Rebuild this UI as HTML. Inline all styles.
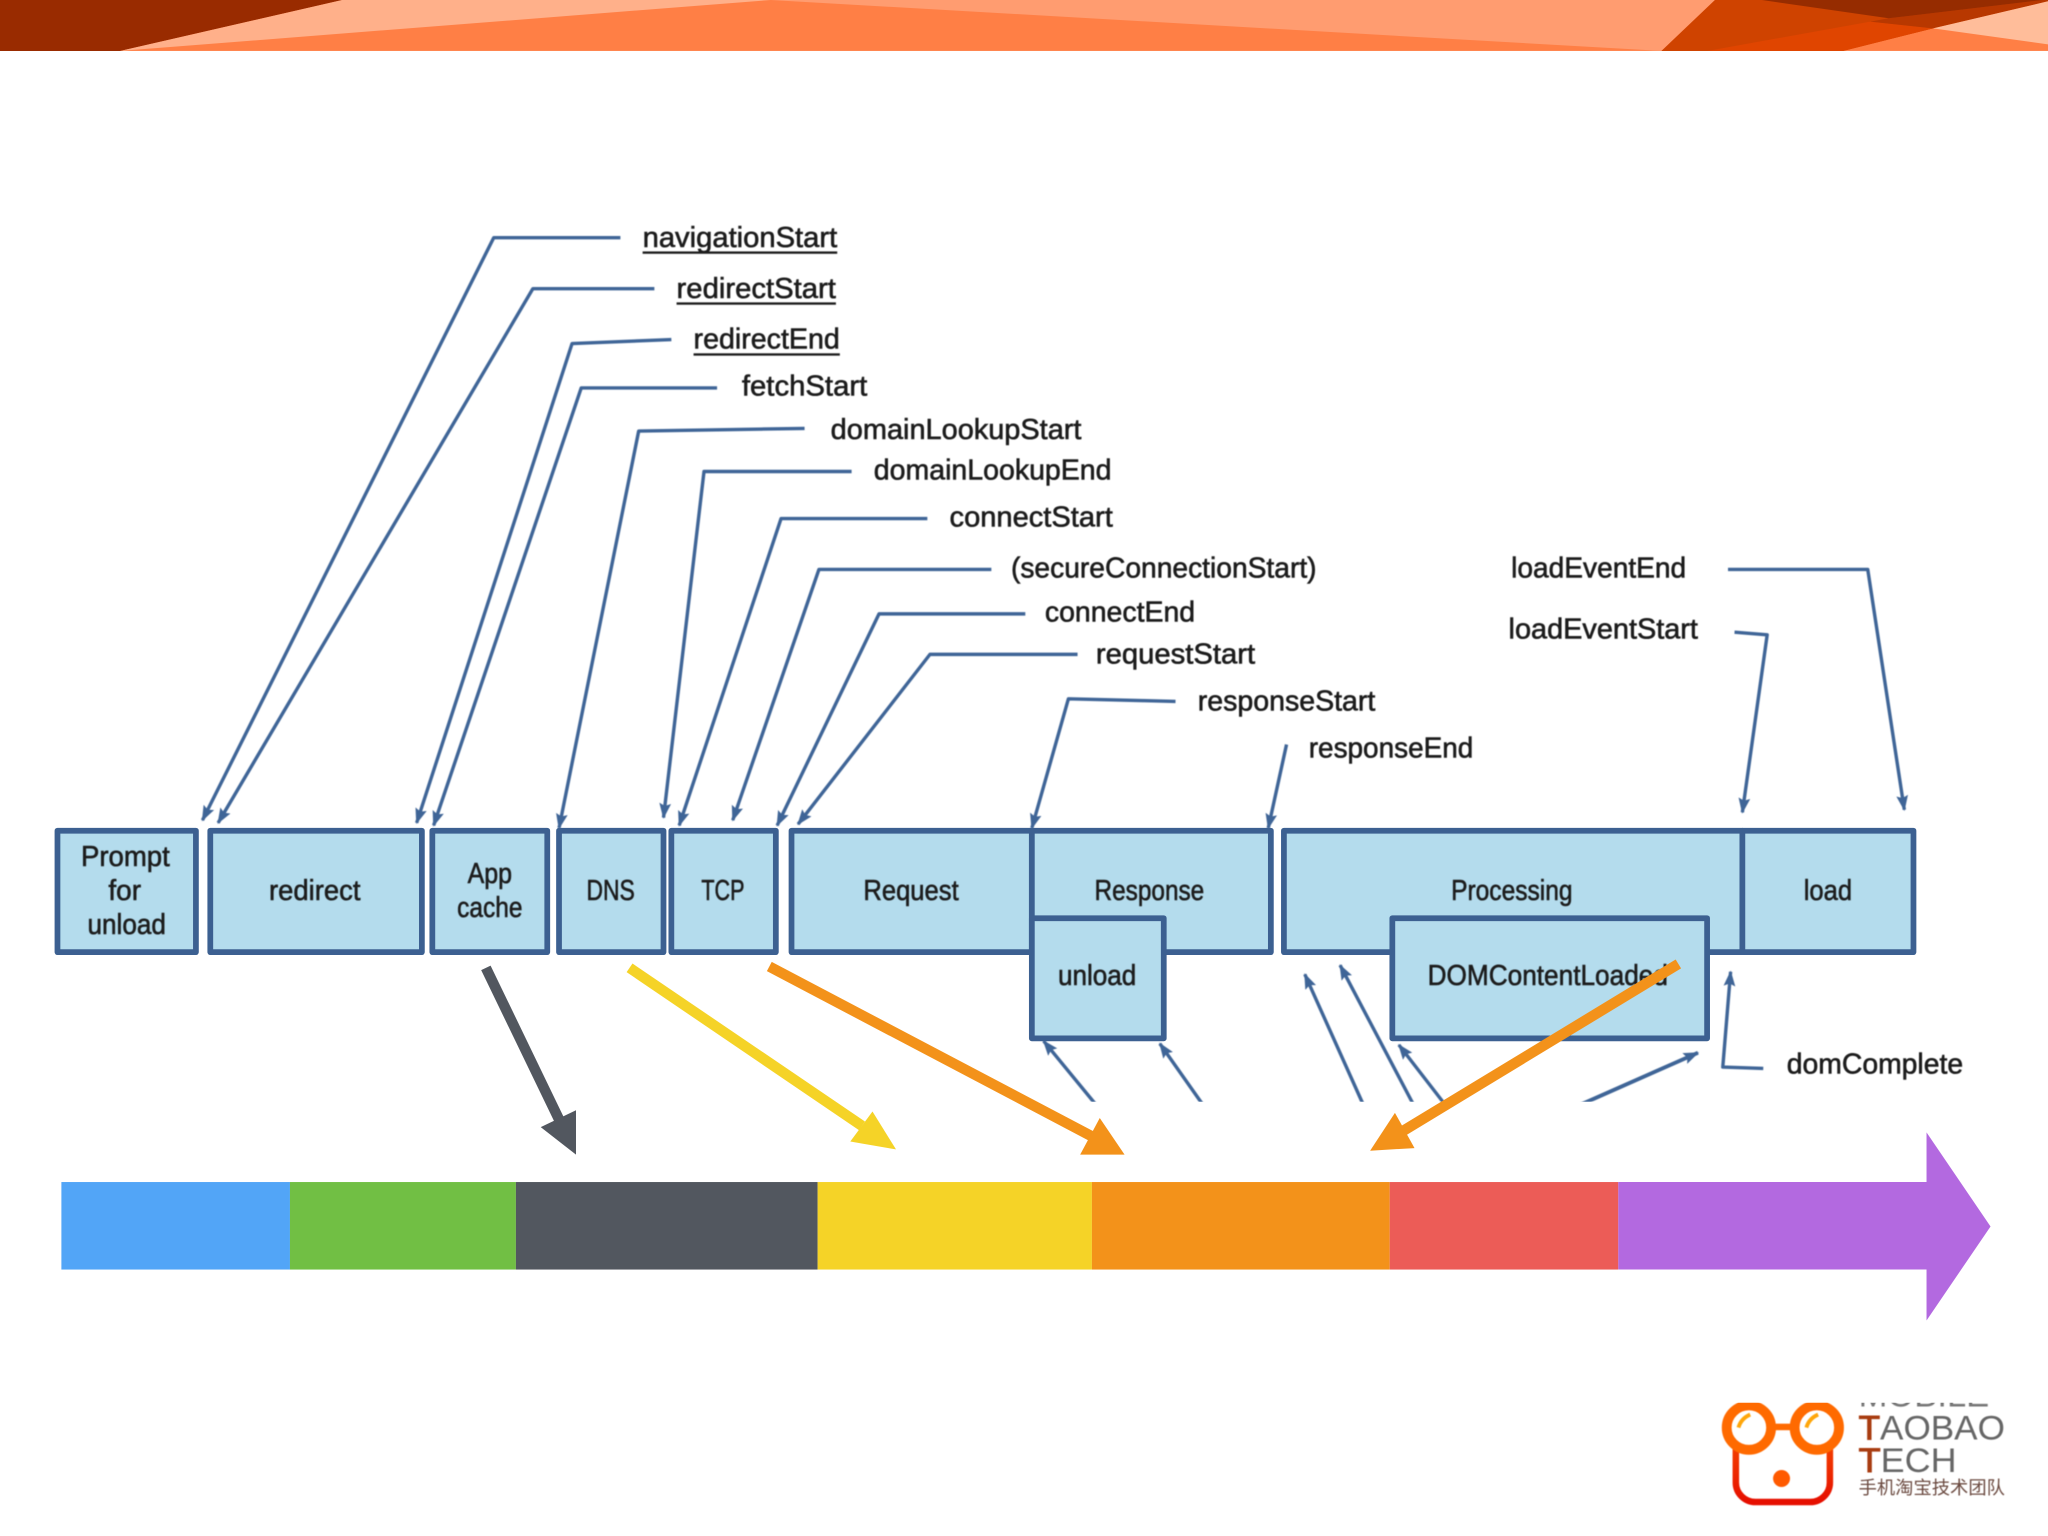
<!DOCTYPE html>
<html><head><meta charset="utf-8"><style>
html,body{margin:0;padding:0;background:#fff;width:2048px;height:1536px;overflow:hidden}
svg{display:block}
text{font-family:"Liberation Sans","Noto Sans CJK SC",sans-serif;fill:#1c1c1c;font-size:22px;stroke:#1c1c1c;stroke-width:.45;}
.c{fill:none;stroke:#3f6597;stroke-width:2.6;stroke-linejoin:round;marker-end:url(#a)}
.b{fill:#b4dced;stroke:#3c6091;stroke-width:4.4;stroke-linejoin:round}
.s{filter:blur(.35px)}
</style></head><body>
<svg width="2048" height="1536" viewBox="0 0 1568 1176" xmlns="http://www.w3.org/2000/svg">
<defs>
<marker id="a" markerUnits="userSpaceOnUse" markerWidth="12" markerHeight="14" refX="11" refY="4.5" orient="auto"><path d="M0 0L12 4.5L0 9L2 4.5Z" fill="#3f6597"/></marker>
<clipPath id="lg"><rect x="1300" y="1074" width="268" height="102"/></clipPath>
<linearGradient id="hd" x1="0" y1="0" x2="0" y2="1"><stop offset="0" stop-color="#ff6a00"/><stop offset="1" stop-color="#e60f00"/></linearGradient>
</defs>
<rect width="1568" height="1176" fill="#fff"/>
<!-- header -->
<rect width="1568" height="39" fill="#ff7f45"/>
<polygon points="0,0 262,0 92,39 0,39" fill="#992b00"/>
<polygon points="262,0 590,0 92,39" fill="#ffb08a"/>
<polygon points="590,0 1313,0 1272,39" fill="#ff9c70"/>
<polygon points="1313,0 1568,0 1568,1 1480,21.7 1411,39 1272,39" fill="#cf4300"/>
<polygon points="1307,39 1432,16.6 1480,21.7 1411,39" fill="#e04500"/>
<polygon points="1446,14 1564,0 1568,0 1568,1 1480,21.7 1432,16.6" fill="#b83800"/>
<polygon points="1349,0 1564,0 1446,14" fill="#962c00"/>
<polygon points="1568,1 1480,21.7 1568,34" fill="#ffbd9a"/>
<!-- connectors -->
<g class="s">
<polyline class="c" points="475,182 378,182 155,628"/>
<polyline class="c" points="501,221 408,221 167,630"/>
<polyline class="c" points="514,260 438,263 319,630"/>
<polyline class="c" points="549,297 445,297 332,632"/>
<polyline class="c" points="616,328 489,330 428,634"/>
<polyline class="c" points="652,361 539,361 508,626"/>
<polyline class="c" points="710,397 598,397 520,632"/>
<polyline class="c" points="759,436 627,436 561,628"/>
<polyline class="c" points="785,470 673,470 595,632"/>
<polyline class="c" points="825,501 712,501 611,631"/>
<polyline class="c" points="900,537 818,535 790,634"/>
<polyline class="c" points="985,570 971,634"/>
<polyline class="c" points="1323,436 1430,436 1458,620"/>
<polyline class="c" points="1328,484 1353,486 1334,622"/>
<polyline class="c" points="845,853 799,797"/>
<polyline class="c" points="926,853 888,799"/>
<polyline class="c" points="1047,853 999,746"/>
<polyline class="c" points="1086,853 1026,739"/>
<polyline class="c" points="1112,853 1071,800"/>
<polyline class="c" points="1196,852 1300,806" style="stroke-width:3"/>
<polyline class="c" points="1350,818 1319,817 1325,744"/>
</g>
<rect x="700" y="843.5" width="700" height="30" fill="#fff"/>
<!-- boxes -->
<rect class="b" x="44" y="636" width="106" height="93"/>
<rect class="b" x="161" y="636" width="162" height="93"/>
<rect class="b" x="331" y="636" width="88" height="93"/>
<rect class="b" x="428" y="636" width="80" height="93"/>
<rect class="b" x="514" y="636" width="80" height="93"/>
<rect class="b" x="606" y="636" width="184" height="93"/>
<rect class="b" x="790" y="636" width="183" height="93"/>
<rect class="b" x="983" y="636" width="351" height="93"/>
<rect class="b" x="1334" y="636" width="131" height="93"/>
<rect class="b" x="790" y="703" width="101" height="92"/>
<rect class="b" x="1066" y="703" width="241" height="92"/>
<g class="s" transform="translate(0,1)">
<!-- box labels -->
<text x="62" y="662" textLength="68" lengthAdjust="spacingAndGlyphs">Prompt</text>
<text x="83" y="688" textLength="25" lengthAdjust="spacingAndGlyphs">for</text>
<text x="67" y="714" textLength="60" lengthAdjust="spacingAndGlyphs">unload</text>
<text x="206" y="688" textLength="70" lengthAdjust="spacingAndGlyphs">redirect</text>
<text x="358" y="675" textLength="34" lengthAdjust="spacingAndGlyphs">App</text>
<text x="350" y="701" textLength="50" lengthAdjust="spacingAndGlyphs">cache</text>
<text x="449" y="688" textLength="37" lengthAdjust="spacingAndGlyphs">DNS</text>
<text x="537" y="688" textLength="33" lengthAdjust="spacingAndGlyphs">TCP</text>
<text x="661" y="688" textLength="73" lengthAdjust="spacingAndGlyphs">Request</text>
<text x="838" y="688" textLength="84" lengthAdjust="spacingAndGlyphs">Response</text>
<text x="1111" y="688" textLength="93" lengthAdjust="spacingAndGlyphs">Processing</text>
<text x="1381" y="688" textLength="37" lengthAdjust="spacingAndGlyphs">load</text>
<text x="810" y="753" textLength="60" lengthAdjust="spacingAndGlyphs">unload</text>
<text x="1093" y="753" textLength="184" lengthAdjust="spacingAndGlyphs">DOMContentLoaded</text>
<!-- timing labels -->
<text x="492" y="188" textLength="149" lengthAdjust="spacingAndGlyphs">navigationStart</text>
<rect x="492" y="191.5" width="149" height="1.8" fill="#1c1c1c"/>
<text x="518" y="227" textLength="122" lengthAdjust="spacingAndGlyphs">redirectStart</text>
<rect x="518" y="230.5" width="122" height="1.8" fill="#1c1c1c"/>
<text x="531" y="266" textLength="112" lengthAdjust="spacingAndGlyphs">redirectEnd</text>
<rect x="531" y="269.5" width="112" height="1.8" fill="#1c1c1c"/>
<text x="568" y="302" textLength="96" lengthAdjust="spacingAndGlyphs">fetchStart</text>
<text x="636" y="335" textLength="192" lengthAdjust="spacingAndGlyphs">domainLookupStart</text>
<text x="669" y="366" textLength="182" lengthAdjust="spacingAndGlyphs">domainLookupEnd</text>
<text x="727" y="402" textLength="125" lengthAdjust="spacingAndGlyphs">connectStart</text>
<text x="774" y="441" textLength="234" lengthAdjust="spacingAndGlyphs">(secureConnectionStart)</text>
<text x="800" y="475" textLength="115" lengthAdjust="spacingAndGlyphs">connectEnd</text>
<text x="839" y="507" textLength="122" lengthAdjust="spacingAndGlyphs">requestStart</text>
<text x="917" y="543" textLength="136" lengthAdjust="spacingAndGlyphs">responseStart</text>
<text x="1002" y="579" textLength="126" lengthAdjust="spacingAndGlyphs">responseEnd</text>
<text x="1157" y="441" textLength="134" lengthAdjust="spacingAndGlyphs">loadEventEnd</text>
<text x="1155" y="488" textLength="145" lengthAdjust="spacingAndGlyphs">loadEventStart</text>
<text x="1368" y="821" textLength="135" lengthAdjust="spacingAndGlyphs">domComplete</text>
</g>
<!-- colour bar -->
<rect x="47" y="905" width="175" height="67" fill="#52a5f7"/>
<rect x="222" y="905" width="173" height="67" fill="#71bf44"/>
<rect x="395" y="905" width="231" height="67" fill="#52575f"/>
<rect x="626" y="905" width="210" height="67" fill="#f5d327"/>
<rect x="836" y="905" width="228" height="67" fill="#f3921a"/>
<rect x="1064" y="905" width="175" height="67" fill="#ec5c57"/>
<polygon points="1239,905 1475,905 1475,867 1524,939 1475,1011 1475,972 1239,972" fill="#b369e0"/>
<!-- big arrows -->
<line x1="372" y1="741" x2="428" y2="857" stroke="#52575f" stroke-width="8"/>
<polygon points="441,884 441,850 414,863" fill="#52575f"/>
<line x1="482" y1="741" x2="660" y2="862" stroke="#f5d327" stroke-width="8"/>
<polygon points="686,880 668,851 651,874" fill="#f5d327"/>
<line x1="589" y1="740" x2="836" y2="870" stroke="#f3921a" stroke-width="8"/>
<polygon points="861,884 842,856 827,884" fill="#f3921a"/>
<line x1="1285" y1="738" x2="1074" y2="866" stroke="#f3921a" stroke-width="8"/>
<polygon points="1049,881 1068,852 1083,879" fill="#f3921a"/>
<!-- logo -->
<g clip-path="url(#lg)" style="filter:blur(.5px)">
<rect x="1329" y="1070" width="72" height="80" rx="15" fill="none" stroke="url(#hd)" stroke-width="5"/>
<rect x="1355" y="1090" width="18" height="5" fill="#ff6a00"/>
<circle cx="1339" cy="1093" r="17" fill="#fff" stroke="#ff6a00" stroke-width="7.5"/>
<circle cx="1391" cy="1093" r="17" fill="#fff" stroke="#ff6a00" stroke-width="7.5"/>
<path d="M1331 1093Q1333 1086 1340 1083" fill="none" stroke="#ffa60a" stroke-width="3"/>
<path d="M1383 1093Q1385 1086 1392 1083" fill="none" stroke="#ffa60a" stroke-width="3"/>
<circle cx="1364" cy="1132" r="6.5" fill="#ff5a00"/>
<text x="1423" y="1077" textLength="100" lengthAdjust="spacingAndGlyphs" style="font-size:26px;fill:#777;stroke:none">MOBILE</text>
<text x="1423" y="1102" textLength="112" lengthAdjust="spacingAndGlyphs" style="font-size:26px;fill:#666;stroke:none"><tspan fill="#a83c10" stroke="#a83c10" stroke-width=".8">T</tspan>AOBAO</text>
<text x="1423" y="1127" textLength="75" lengthAdjust="spacingAndGlyphs" style="font-size:26px;fill:#666;stroke:none"><tspan fill="#a83c10" stroke="#a83c10" stroke-width=".8">T</tspan>ECH</text>
<text x="1423" y="1144" textLength="112" lengthAdjust="spacingAndGlyphs" style="font-size:14px;fill:#6b4a40;stroke:none">手机淘宝技术团队</text>
</g>
</svg>
</body></html>
